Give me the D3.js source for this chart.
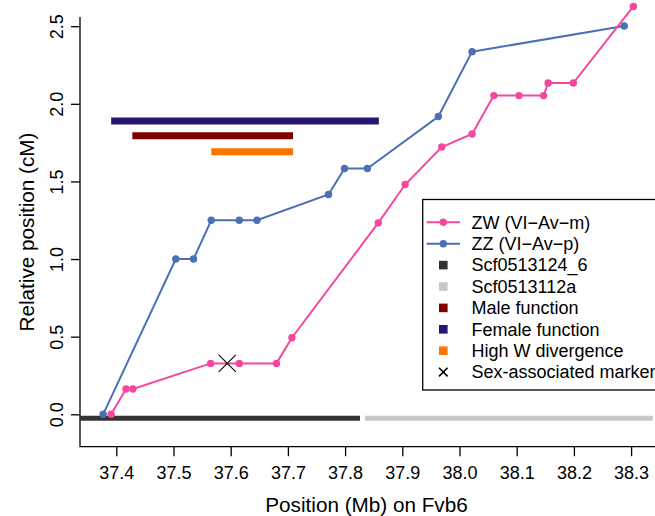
<!DOCTYPE html>
<html><head><meta charset="utf-8">
<script src="https://cdn.jsdelivr.net/npm/d3@7"></script>
<style>
html,body{margin:0;padding:0;background:#fff;}
svg{display:block;font-family:"Liberation Sans",Arial,sans-serif;}
</style></head>
<body>
<svg id="chart" width="655" height="516"></svg>
<script>
// ---- data ----
const zwPos = [37.391, 37.417, 37.429, 37.565, 37.615, 37.680, 37.707, 37.858, 37.905, 37.969, 38.022, 38.060, 38.104, 38.147, 38.155, 38.199, 38.304];
const zwCM  = [0, 0.163, 0.163, 0.328, 0.328, 0.328, 0.493, 1.233, 1.480, 1.722, 1.806, 2.053, 2.053, 2.053, 2.134, 2.134, 2.627];
const zzPos = [37.377, 37.504, 37.535, 37.566, 37.615, 37.646, 37.771, 37.799, 37.839, 37.963, 38.022, 38.288];
const zzCM  = [0, 1.0, 1.0, 1.25, 1.25, 1.25, 1.416, 1.583, 1.583, 1.918, 2.336, 2.501];
const markerPos = [37.594];
const markerCM = [0.328];
const regionNames = ["Female function", "Male function", "High W divergence"];
const regionStart = [37.391, 37.428, 37.566];
const regionEnd   = [37.859, 37.709, 37.709];
const regionCM    = [1.889, 1.795, 1.692];
const scaffoldNames = ["Scf0513124_6", "Scf0513112a"];
const scaffoldStart = [37.3365, 37.835];
const scaffoldEnd   = [37.826, 38.338];
const scaffoldCM    = [-0.026, -0.026];
const xTicks = [37.4, 37.5, 37.6, 37.7, 37.8, 37.9, 38.0, 38.1, 38.2, 38.3];
const yTicks = [0.0, 0.5, 1.0, 1.5, 2.0, 2.5];
const legendLabels = ["ZW (VI\u2212Av\u2212m)", "ZZ (VI\u2212Av\u2212p)", "Scf0513124_6", "Scf0513112a", "Male function", "Female function", "High W divergence", "Sex-associated marker"];

// ---- styles ----
const PINK = "#F4489E", BLUE = "#4A70B6";
const regionColors = {"Female function":"#2A1573", "Male function":"#800000", "High W divergence":"#FF7300"};
const scaffoldColors = ["#333333", "#C8C8C8"];

const svg = d3.select("#chart");
const x = d3.scaleLinear().domain([37.4, 38.3]).range([116.3, 631.1]);
const y = d3.scaleLinear().domain([0, 2.5]).range([414.3, 26.2]);
const plotLeft = 80, plotBottom = 446.7, plotTop = 17, plotRight = 655;

// axes lines (L-shaped box)
svg.append("path").attr("d", `M${plotLeft},${plotTop}V${plotBottom}H${plotRight}`)
  .attr("fill","none").attr("stroke","#000").attr("stroke-width",1.3);

// x axis ticks
const xa = svg.append("g").attr("transform",`translate(0,${plotBottom})`)
  .call(d3.axisBottom(x).tickValues(xTicks).tickFormat(d3.format(".1f")).tickSize(9.5).tickPadding(10));
xa.select(".domain").remove();
xa.selectAll("line").attr("stroke-width",1.3);
xa.selectAll("text").attr("font-size",18).attr("font-family","Liberation Sans, Arial, sans-serif").attr("fill","#000");

// y axis ticks
const ya = svg.append("g").attr("transform",`translate(${plotLeft},0)`)
  .call(d3.axisLeft(y).tickValues(yTicks).tickFormat(d3.format(".1f")).tickSize(9).tickPadding(0));
ya.select(".domain").remove();
ya.selectAll("line").attr("stroke-width",1.3);
ya.selectAll("text").attr("font-size",18).attr("font-family","Liberation Sans, Arial, sans-serif").attr("fill","#000")
  .attr("text-anchor","middle").attr("dy",null).attr("x",0).attr("y",0)
  .attr("transform","translate(-17.5,0) rotate(-90)");

// axis titles
svg.append("text").attr("x",366.5).attr("y",512).attr("text-anchor","middle")
  .attr("font-size",20.7).text("Position (Mb) on Fvb6");
svg.append("text").attr("transform",`translate(33.5,232) rotate(-90)`).attr("text-anchor","middle")
  .attr("font-size",20.7).text("Relative position (cM)");

// scaffold bars
scaffoldNames.forEach((n,i)=>{
  svg.append("line").attr("x1",Math.max(plotLeft,x(scaffoldStart[i]))).attr("x2",x(scaffoldEnd[i]))
    .attr("y1",y(scaffoldCM[i])).attr("y2",y(scaffoldCM[i]))
    .attr("stroke",scaffoldColors[i]).attr("stroke-width",5);
});

// region bars
regionNames.forEach((n,i)=>{
  svg.append("line").attr("x1",x(regionStart[i])).attr("x2",x(regionEnd[i]))
    .attr("y1",y(regionCM[i])).attr("y2",y(regionCM[i]))
    .attr("stroke",regionColors[n]).attr("stroke-width",7);
});

// series
const line = d3.line().x(d=>x(d[0])).y(d=>y(d[1]));
function series(pos, cm, col){
  const pts = pos.map((p,i)=>[p,cm[i]]);
  svg.append("path").datum(pts).attr("d",line).attr("fill","none").attr("stroke",col).attr("stroke-width",2);
  svg.append("g").selectAll("circle").data(pts).join("circle")
    .attr("cx",d=>x(d[0])).attr("cy",d=>y(d[1])).attr("r",3.7).attr("fill",col);
}
series(zzPos, zzCM, BLUE);
series(zwPos, zwCM, PINK);

// sex-associated marker
markerPos.forEach((p,i)=>{
  const cx = x(p), cy = y(markerCM[i]), s = 8.5;
  svg.append("path").attr("d",`M${cx-s},${cy-s}L${cx+s},${cy+s}M${cx-s},${cy+s}L${cx+s},${cy-s}`)
    .attr("stroke","#000").attr("stroke-width",1.1).attr("fill","none");
});

// legend
const lg = svg.append("g");
lg.append("rect").attr("x",422.7).attr("y",199.5).attr("width",300).attr("height",190.5)
  .attr("fill","#fff").attr("stroke","#000").attr("stroke-width",1.3);
const ly0 = 222.3, ldy = 21.4, lcx = 443.3, ltx = 471.5;
legendLabels.forEach((lab,i)=>{
  const yy = ly0 + i*ldy;
  if(i<2){
    const col = i===0?PINK:BLUE;
    lg.append("line").attr("x1",lcx-16.7).attr("x2",lcx+16.7).attr("y1",yy).attr("y2",yy).attr("stroke",col).attr("stroke-width",2);
    lg.append("circle").attr("cx",lcx).attr("cy",yy).attr("r",3.7).attr("fill",col);
  } else if(i<7){
    let col;
    if(i===2) col = scaffoldColors[0];
    else if(i===3) col = scaffoldColors[1];
    else col = regionColors[lab];
    lg.append("rect").attr("x",lcx-4.3).attr("y",yy-4.3).attr("width",8.6).attr("height",8.6).attr("fill",col);
  } else {
    const s=4.3;
    lg.append("path").attr("d",`M${lcx-s},${yy-s}L${lcx+s},${yy+s}M${lcx-s},${yy+s}L${lcx+s},${yy-s}`)
      .attr("stroke","#000").attr("stroke-width",1.6);
  }
  lg.append("text").attr("x",ltx).attr("y",yy).attr("dy","0.35em").attr("font-size",18).text(lab);
});
</script>
</body></html>
